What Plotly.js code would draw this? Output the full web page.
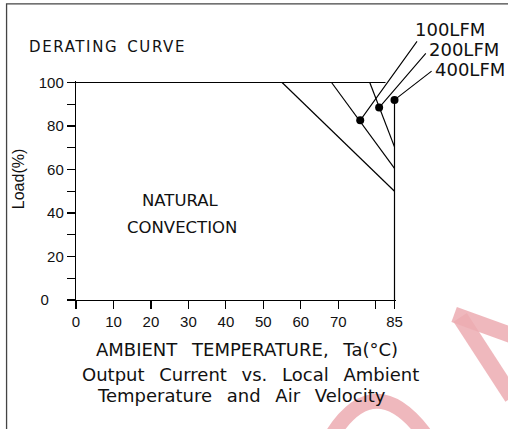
<!DOCTYPE html>
<html><head><meta charset="utf-8">
<script src="https://cdn.plot.ly/plotly-3.0.1.min.js"></script>
<style>html,body{margin:0;padding:0;background:#fff;overflow:hidden}#chart{width:508px;height:429px}</style>
</head><body><div id="chart"></div>
<script>
// ---- data (ambient temperature in °C, load in %) ----
const topTemp = [0, 82.6],      topLoad = [100, 100];
const natTemp = [55, 85],       natLoad = [100, 50];
const lfm100Temp = [68.2, 85],  lfm100Load = [100, 60.5];
const lfm200Temp = [78.4, 85],  lfm200Load = [100, 70.4];
const lfm400Temp = [85, 85],    lfm400Load = [92, 0];
const dotTemp = [75.85, 80.9, 85], dotLoad = [82.6, 88.5, 92];
const pointerTemp = [91.3, 93.7, 95.3], pointerLoad = [119.6, 114.1, 105.8];
const airLabels = ['100LFM', '200LFM', '400LFM'];
const xTickVals = [0, 10, 20, 30, 40, 50, 60, 70, 80, 85];
const xTickText = ['0', '10', '20', '30', '40', '50', '60', '70', '', '85'];
const yTickVals = [0, 10, 20, 30, 40, 50, 60, 70, 80, 90, 100];
const yTickText = ['0\u2002\u2002', '', '20', '', '40', '', '60', '', '80', '', '100'];

// ---- layout geometry ----
const L = 75.5, T = 81.2, W = 320.3, H = 219.3;
const px = x => (x - L) / W;
const py = y => (T + H - y) / H;
const INK = '#111';
const MAIN = 'DejaVu Sans, Verdana, sans-serif';
const NARROW = 'Liberation Sans Narrow, Liberation Sans, Arial, sans-serif';

function lineTrace(xs, ys) {
  return {x: xs, y: ys, mode: 'lines', line: {color: '#000', width: 1.2}, hoverinfo: 'skip', showlegend: false};
}
const traces = [
  lineTrace(topTemp, topLoad),
  lineTrace(natTemp, natLoad),
  lineTrace(lfm100Temp, lfm100Load),
  lineTrace(lfm200Temp, lfm200Load),
  lineTrace(lfm400Temp, lfm400Load),
  {x: dotTemp, y: dotLoad, mode: 'markers', marker: {color: '#000', size: 8}, cliponaxis: false, hoverinfo: 'skip', showlegend: false}
];

function txt(text, x, y, size, anchor, extra) {
  return Object.assign({text: text, xref: 'paper', yref: 'paper', x: px(x), y: py(y),
    xanchor: anchor || 'center', yanchor: 'middle', showarrow: false,
    font: {family: MAIN, size: size, color: INK}}, extra || {});
}
const G = ' \u2002';
const annotations = [
  txt('<span style="letter-spacing:1.6px">DERATING\u2002CURVE</span>', 26.7, 47, 15, 'left'),
  txt('AMBIENT' + G + 'TEMPERATURE,' + G + 'Ta(°C)', 246.5, 350, 18),
  txt('Output' + G + 'Current' + G + 'vs.' + G + 'Local' + G + 'Ambient', 250, 375, 18),
  txt('Temperature' + G + 'and' + G + 'Air' + G + 'Velocity', 241.5, 396.5, 18),
  txt('NATURAL', 180, 201, 16.5),
  txt('CONVECTION', 181.7, 228, 16.5),
  txt('Load(%)', 18, 180, 16, 'center', {textangle: -90, font: {family: NARROW, size: 16, color: INK}}),
  txt(airLabels[0], 413, 29.5, 18, 'left'),
  txt(airLabels[1], 427, 49.5, 18, 'left'),
  txt(airLabels[2], 433, 69.5, 18, 'left')
];
for (let i = 0; i < dotTemp.length; i++) {
  annotations.push({xref: 'x', yref: 'y', axref: 'x', ayref: 'y', x: dotTemp[i], y: dotLoad[i],
    ax: pointerTemp[i], ay: pointerLoad[i], text: '', showarrow: true, arrowhead: 0,
    arrowwidth: 1.1, arrowcolor: '#000', standoff: 0, startstandoff: 0, font: {size: 1}});
}

const pink = 'rgba(236,172,178,0.85)';
const shapes = [
  {type: 'path', xref: 'paper', yref: 'paper', layer: 'below',
   path: `M ${px(333)} ${py(434)} Q ${px(375)} ${py(370)} ${px(424)} ${py(434)}`,
   line: {color: pink, width: 15}},
  {type: 'path', xref: 'paper', yref: 'paper', layer: 'below',
   path: `M ${px(460)} ${py(318)} L ${px(512)} ${py(398)}`, line: {color: pink, width: 16}},
  {type: 'path', xref: 'paper', yref: 'paper', layer: 'below',
   path: `M ${px(454)} ${py(315)} L ${px(512)} ${py(336)}`, line: {color: pink, width: 16}},
  {type: 'path', xref: 'paper', yref: 'paper',
   path: `M ${px(6)} ${py(432)} L ${px(6)} ${py(4)} L ${px(512)} ${py(4)}`,
   line: {color: '#444', width: 1.3}}
];

const layout = {
  width: 508, height: 429, autosize: false,
  margin: {l: L, r: 508 - L - W, t: T, b: 429 - T - H, pad: 0},
  paper_bgcolor: '#fff', plot_bgcolor: '#fff',
  showlegend: false,
  xaxis: {range: [0, 85.4], showgrid: false, zeroline: false, showline: true, linecolor: '#000', linewidth: 1.2,
    ticks: 'outside', ticklen: 8, tickwidth: 1.2, tickcolor: '#000',
    tickmode: 'array', tickvals: xTickVals, ticktext: xTickText,
    tickfont: {family: NARROW, size: 15, color: INK}, fixedrange: true},
  yaxis: {range: [0, 100.7], showgrid: false, zeroline: false, showline: true, linecolor: '#000', linewidth: 1.2,
    ticks: 'outside', ticklen: 8, tickwidth: 1.2, tickcolor: '#000',
    tickmode: 'array', tickvals: yTickVals, ticktext: yTickText,
    tickfont: {family: NARROW, size: 15, color: INK}, fixedrange: true},
  annotations: annotations,
  shapes: shapes
};
Plotly.newPlot('chart', traces, layout, {staticPlot: true, displayModeBar: false});
</script></body></html>
